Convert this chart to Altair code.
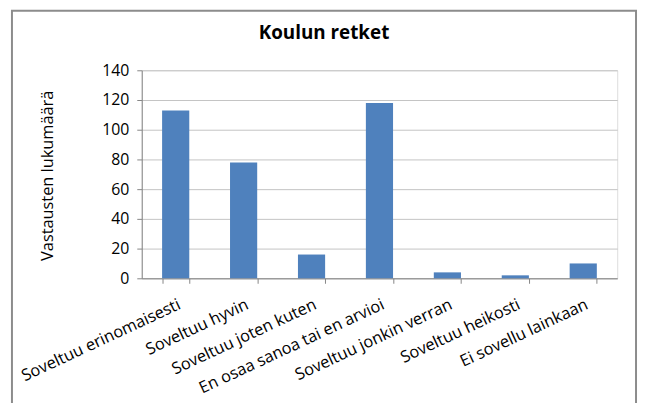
import altair as alt
import pandas as pd

categories = [
    "Soveltuu erinomaisesti",
    "Soveltuu hyvin",
    "Soveltuu joten kuten",
    "En osaa sanoa tai en arvioi",
    "Soveltuu jonkin verran",
    "Soveltuu heikosti",
    "Ei sovellu lainkaan",
]
values = [113, 78, 16, 118, 4, 2, 10]
y_ticks = [0, 20, 40, 60, 80, 100, 120, 140]

df = pd.DataFrame({"luokka": categories, "arvo": values})

FONT = "Open Sans"
GRAY = "#868686"

bars = alt.Chart(df).mark_bar(color="#4F81BD").encode(
    x=alt.X(
        "luokka:N",
        sort=categories,
        scale=alt.Scale(paddingInner=0.6, paddingOuter=0.3),
        axis=alt.Axis(
            title=None,
            labelAngle=-25,
            labelAlign="right",
            labelBaseline="top",
            labelPadding=13,
            labelFont=FONT,
            labelFontSize=16.5,
            labelColor="#000000",
            labelLimit=300,
            tickBand="extent",
            tickSize=5,
            tickColor=GRAY,
            domainColor=GRAY,
            grid=False,
        ),
    ),
    y=alt.Y(
        "arvo:Q",
        scale=alt.Scale(domain=[0, 140], nice=False),
        axis=alt.Axis(
            title="Vastausten lukumäärä",
            values=y_ticks,
            titleFont=FONT,
            titleFontSize=16.5,
            titleFontWeight="normal",
            titleColor="#000000",
            titleX=-90,
            titleY=106,
            titleAngle=270,
            titleAlign="center",
            titleBaseline="alphabetic",
            labelFont=FONT,
            labelFontSize=16,
            labelColor="#000000",
            labelPadding=8,
            tickSize=5,
            tickColor=GRAY,
            domainColor=GRAY,
            gridColor="#C3C3C3",
            gridWidth=1,
        ),
    ),
)

border = alt.Chart(alt.Data(values=[{}])).mark_rect(
    filled=False, stroke="#8C8C8C", strokeWidth=2
).encode(
    x=alt.value(-131), x2=alt.value(499), y=alt.value(-60), y2=alt.value(360)
)

chart = alt.layer(border, bars).properties(
    width=480,
    height=210,
    title=alt.TitleParams(
        "Koulun retket",
        font=FONT,
        fontSize=19,
        fontWeight="bold",
        color="#000000",
        anchor="middle",
        frame="bounds",
        baseline="alphabetic",
        offset=-48,
    ),
    autosize=alt.AutoSizeParams(type="none"),
    padding={"left": 135, "top": 61, "right": 21, "bottom": 124},
).configure_view(stroke=None).configure(background="#FFFFFF")

chart.save("out.html", embed_options={"renderer": "svg", "actions": False})
